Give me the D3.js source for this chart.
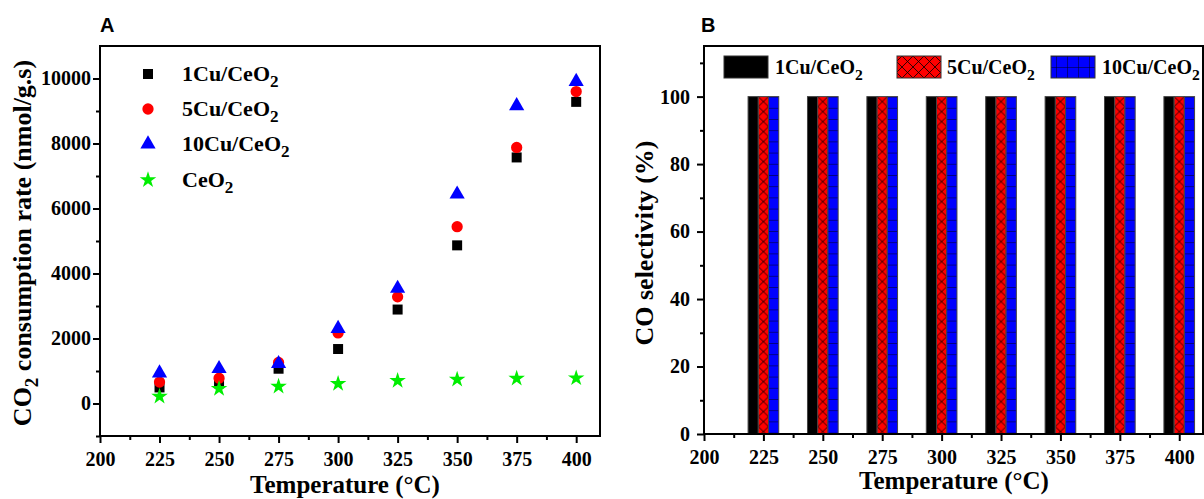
<!DOCTYPE html>
<html><head><meta charset="utf-8">
<script src="https://cdn.jsdelivr.net/npm/d3@7"></script>
<style>
body{margin:0;background:#fff;}
svg{display:block;}
text{font-family:"Liberation Serif","Times New Roman",serif;font-weight:bold;fill:#000;}
</style></head>
<body>
<svg id="chart" width="1204" height="499"></svg>
<script>
// ---------- data ----------
const temps = [225, 250, 275, 300, 325, 350, 375, 400];
const rate1Cu  = [494, 627, 1070, 1676, 2891, 4866, 7571, 9281];
const rate5Cu  = [658, 780, 1265, 2170, 3281, 5442, 7880, 9599];
const rate10Cu = [935, 1070, 1225, 2305, 3540, 6440, 9157, 9907];
const rateCeO2 = [216, 453, 525, 607, 700, 740, 771, 782];
const sel1Cu  = [100, 100, 100, 100, 100, 100, 100, 100];
const sel5Cu  = [100, 100, 100, 100, 100, 100, 100, 100];
const sel10Cu = [100, 100, 100, 100, 100, 100, 100, 100];
const xTicks = [200, 225, 250, 275, 300, 325, 350, 375, 400];
const rateTicks = [0, 2000, 4000, 6000, 8000, 10000];
const selTicks = [0, 20, 40, 60, 80, 100];
const seriesNamesA = ["1Cu/CeO", "5Cu/CeO", "10Cu/CeO", "CeO"];
const seriesNamesB = ["1Cu/CeO", "5Cu/CeO", "10Cu/CeO"];

const svg = d3.select("#chart");
const defs = svg.append("defs");

// ---------- helpers ----------
function frame(g, x0, x1, y0, y1){
  g.append("rect").attr("x",x0).attr("y",y0).attr("width",x1-x0).attr("height",y1-y0)
   .attr("fill","none").attr("stroke","#000").attr("stroke-width",2);
}
function subText(g, x, y, base, sub, size, anchor){
  const t = g.append("text").attr("x",x).attr("y",y).attr("font-size",size)
    .attr("text-anchor",anchor||"start");
  t.append("tspan").text(base);
  t.append("tspan").attr("font-size",size*0.78).attr("dy",size*0.28).text(sub);
  return t;
}
function styleAxis(sel, fs){
  sel.select(".domain").remove();
  sel.selectAll(".tick line").attr("stroke","#000").attr("stroke-width",2);
  sel.selectAll(".tick text").attr("font-size",fs)
     .style("font-family","'Liberation Serif',serif").style("font-weight","bold");
}

// ================= Panel A =================
const xA = d3.scaleLinear().domain([200, 410]).range([100, 600]);
const yA = d3.scaleLinear().domain([-1000, 11000]).range([436, 46]);
const gA = svg.append("g");

gA.append("g").attr("transform","translate(0,436)")
  .call(d3.axisBottom(xA).tickValues(d3.range(212.5, 410, 25)).tickSize(4).tickFormat(""))
  .call(s=>styleAxis(s,20));
gA.append("g").attr("transform","translate(100,0)")
  .call(d3.axisLeft(yA).tickValues(d3.range(-1000, 11000, 2000)).tickSize(4).tickFormat(""))
  .call(s=>styleAxis(s,20));
gA.append("g").attr("transform","translate(0,436)")
  .call(d3.axisBottom(xA).tickValues(xTicks).tickSize(7).tickPadding(9).tickFormat(d3.format("d")))
  .call(s=>styleAxis(s,20));
gA.append("g").attr("transform","translate(100,0)")
  .call(d3.axisLeft(yA).tickValues(rateTicks).tickSize(7).tickPadding(2).tickFormat(d3.format("d")))
  .call(s=>styleAxis(s,20));
frame(gA, 100, 600, 46, 436);

const markerDefs = [
  {vals: rate1Cu,  type: d3.symbolSquare,   size: 100, color: "#000000"},
  {vals: rate5Cu,  type: d3.symbolCircle,   size: 100, color: "#ff0000"},
  {vals: rate10Cu, type: d3.symbolTriangle, size: 100, color: "#0000ff"},
  {vals: rateCeO2, type: d3.symbolStar,     size: 85,  color: "#00ee00"}
];
markerDefs.forEach(m=>{
  gA.append("g").selectAll("path").data(temps.map((t,i)=>[t,m.vals[i]])).join("path")
    .attr("d", d3.symbol().type(m.type).size(m.size))
    .attr("transform", d=>`translate(${xA(d[0])},${yA(d[1])})`)
    .attr("fill", m.color);
});
const legYA = [74, 109, 144, 180];
markerDefs.forEach((m,i)=>{
  gA.append("path").attr("d", d3.symbol().type(m.type).size(m.size))
    .attr("transform",`translate(148,${legYA[i]})`).attr("fill",m.color);
  subText(gA, 182, legYA[i]+7, seriesNamesA[i], "2", 22);
});
gA.append("text").attr("x",100).attr("y",32).attr("font-size",20)
  .style("font-family","'Liberation Sans',Arial,sans-serif").text("A");
gA.append("text").attr("x",345).attr("y",493).attr("text-anchor","middle").attr("font-size",25)
  .text("Temperature (°C)");
{
  const t = gA.append("text").attr("transform","translate(31,243) rotate(-90)")
    .attr("text-anchor","middle").attr("font-size",26);
  t.append("tspan").text("CO");
  t.append("tspan").attr("font-size",19).attr("dy",7).text("2");
  t.append("tspan").attr("dy",-7).text(" consumption rate (nmol/g.s)");
}

// ================= Panel B =================
const xB = d3.scaleLinear().domain([200, 410]).range([704, 1203]);
const yB = d3.scaleLinear().domain([0, 115]).range([434, 46]);
const gB = svg.append("g");

const barW = 4.3; // bar width in °C units

function legPattern(id, kind){
  const p = defs.append("pattern").attr("id",id)
    .attr("patternUnits","userSpaceOnUse").attr("x",0).attr("y",56).attr("width",11).attr("height",11);
  if(kind==="cross"){
    p.append("rect").attr("width",11).attr("height",11).attr("fill","#ff0000");
    p.append("path").attr("d","M0,0L11,11M11,0L0,11").attr("stroke","#000").attr("stroke-width",0.8);
  } else {
    p.append("rect").attr("width",11).attr("height",11).attr("fill","#0000ff");
    p.append("path").attr("d","M0,0H11M0,0V11").attr("stroke","#000").attr("stroke-width",0.9);
  }
}
legPattern("crossLeg","cross");
legPattern("gridLeg","grid");

gB.append("g").attr("transform","translate(0,434)")
  .call(d3.axisBottom(xB).tickValues(d3.range(212.5, 410, 25)).tickSize(4).tickFormat(""))
  .call(s=>styleAxis(s,20));
gB.append("g").attr("transform","translate(704,0)")
  .call(d3.axisLeft(yB).tickValues(d3.range(10, 115, 20)).tickSize(4).tickFormat(""))
  .call(s=>styleAxis(s,20));
gB.append("g").attr("transform","translate(0,434)")
  .call(d3.axisBottom(xB).tickValues(xTicks).tickSize(7).tickPadding(9).tickFormat(d3.format("d")))
  .call(s=>styleAxis(s,20));
gB.append("g").attr("transform","translate(704,0)")
  .call(d3.axisLeft(yB).tickValues(selTicks).tickSize(7).tickPadding(7).tickFormat(d3.format("d")))
  .call(s=>styleAxis(s,20));

const barSeries = [
  {vals: sel1Cu,  off: -barW, fill: "#000000", kind: "solid"},
  {vals: sel5Cu,  off: 0,     fill: "cross",   kind: "cross"},
  {vals: sel10Cu, off: barW,  fill: "grid",    kind: "grid"}
];
barSeries.forEach((s,si)=>{
  temps.forEach((t,i)=>{
    const x0 = xB(t + s.off - barW/2), x1 = xB(t + s.off + barW/2);
    const y0 = yB(s.vals[i]);
    let fill = s.fill;
    if(s.kind!=="solid"){
      const pid = `p${si}_${i}`;
      const w = x1-x0;
      const h = s.kind==="cross" ? 10 : 11.2;
      const p = defs.append("pattern").attr("id",pid).attr("patternUnits","userSpaceOnUse")
        .attr("x",x0).attr("y",y0).attr("width",w).attr("height",h);
      if(s.kind==="cross"){
        p.append("rect").attr("width",w).attr("height",h).attr("fill","#ff0000");
        p.append("path").attr("d",`M0,0L${w},${h}M${w},0L0,${h}`).attr("stroke","#000").attr("stroke-width",0.8);
      } else {
        p.append("rect").attr("width",w).attr("height",h).attr("fill","#0000ff");
        p.append("path").attr("d",`M0,0H${w}`).attr("stroke","#000").attr("stroke-width",0.9);
      }
      fill = `url(#${pid})`;
    }
    gB.append("rect").attr("x",x0).attr("y",y0).attr("width",x1-x0).attr("height",yB(0)-y0)
      .attr("fill",fill).attr("stroke","#444").attr("stroke-width",1);
  });
});
frame(gB, 704, 1203, 46, 434);

const legB = [
  {x:724, fill:"#000", lx:775},
  {x:897, fill:"url(#crossLeg)", lx:947},
  {x:1051, fill:"url(#gridLeg)", lx:1102}
];
legB.forEach((l,i)=>{
  gB.append("rect").attr("x",l.x).attr("y",56).attr("width",44).attr("height",22)
    .attr("fill",l.fill).attr("stroke","#333").attr("stroke-width",1);
  subText(gB, l.lx, 74, seriesNamesB[i], "2", 20);
});
gB.append("text").attr("x",701).attr("y",32).attr("font-size",20)
  .style("font-family","'Liberation Sans',Arial,sans-serif").text("B");
gB.append("text").attr("x",954).attr("y",489).attr("text-anchor","middle").attr("font-size",25)
  .text("Temperature (°C)");
gB.append("text").attr("transform","translate(653,243) rotate(-90)")
  .attr("text-anchor","middle").attr("font-size",26).text("CO selectivity (%)");
</script>
</body></html>
